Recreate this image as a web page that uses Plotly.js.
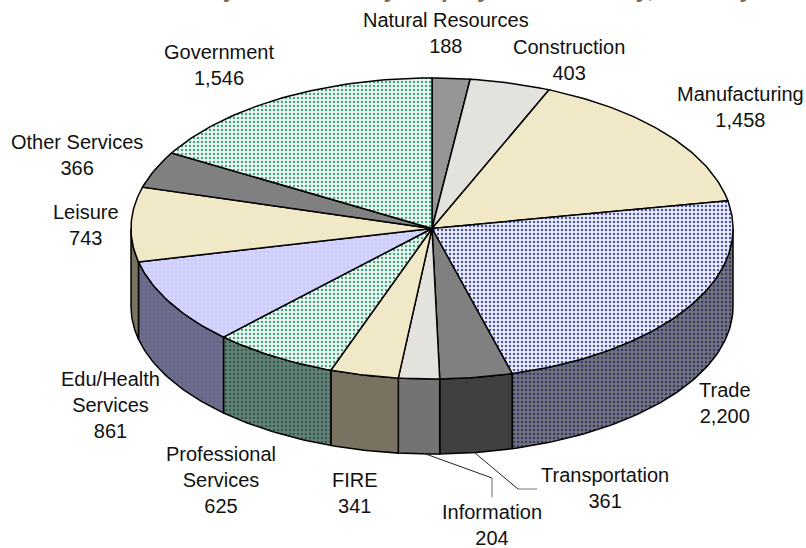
<!DOCTYPE html>
<html>
<head>
<meta charset="utf-8">
<script src="https://cdn.plot.ly/plotly-3.0.1.min.js"></script>
<style>html,body{margin:0;padding:0;background:#fff}#chart{width:806px;height:548px}</style>
</head>
<body>
<div id="chart"></div>
<script>
// Data (clockwise from 12 o'clock)
const categories = ["Natural Resources","Construction","Manufacturing","Trade","Transportation","Information","FIRE","Professional<br>Services","Edu/Health<br>Services","Leisure","Other Services","Government"];
const values = [188,403,1458,2200,361,204,341,625,861,743,366,1546];
const labelX = [446,569,740,725,605,491.5,355,221,110,86,77,219];
const labelY = [33,60,107,403,488,525,493,480,405,225,155,65];
const topColors = ["#969696","#e3e2dd","#f1e8c8","#eeeef8","#808080","#e3e2dd","#f1e8c8","#eef7f2","#ccccff","#f1e8c8","#808080","#eef7f2"];
const wallColors = ["#4b4b4b","#71716e","#7a7260","#72747f","#404040","#737373","#7a7260","#66807a","#6e6e8c","#7a7260","#404040","#66807a"];
const dotColors = [null,null,null,"#4a56a8",null,null,null,"#45a585","#dcdcff",null,null,"#45a585"];
const wallDotColors = [null,null,null,"#343a66",null,null,null,"#2f5f4c","#62628a",null,null,"#2f5f4c"];

// Pie geometry (px)
const CX = 432, CY = 228.5, RX = 301, RY = 150.5, BOTTOM_CY = 306.5, BOTTOM_RY = 147.5;
const total = values.reduce((a,b)=>a+b,0);
const pt = (deg, cy, ry) => [CX + RX*Math.sin(deg*Math.PI/180), cy - ry*Math.cos(deg*Math.PI/180)];
function arc(a0, a1, cy, ry){
  const n = Math.max(2, Math.ceil(Math.abs(a1-a0)));
  const o = [];
  for(let i=0;i<=n;i++) o.push(pt(a0+(a1-a0)*i/n, cy, ry));
  return o;
}
function pattern(dot, bg){
  return dot ? {shape:".", size:4, solidity:0.3, fgcolor:dot, bgcolor:bg, fillmode:"replace"} : undefined;
}
function poly(points, color, dot){
  const t = {
    type:"scatter", mode:"lines", x:points.map(p=>p[0]), y:points.map(p=>p[1]),
    fill:"toself", fillcolor:color, line:{color:"#000",width:1.5}, hoverinfo:"skip", showlegend:false
  };
  const p = pattern(dot,color);
  if(p) t.fillpattern = p;
  return t;
}
const walls = [], tops = [];
let acc = 0;
values.forEach((v,i)=>{
  const a0 = acc/total*360; acc += v; const a1 = acc/total*360;
  const w0 = Math.max(a0,90), w1 = Math.min(a1,270);
  if(w1 > w0){
    walls.push(poly(arc(w0,w1,CY,RY).concat(arc(w1,w0,BOTTOM_CY,BOTTOM_RY)).concat([pt(w0,CY,RY)]), wallColors[i], wallDotColors[i]));
  }
  tops.push(poly([[CX,CY]].concat(arc(a0,a1,CY,RY)).concat([[CX,CY]]), topColors[i], dotColors[i]));
});

const labels = categories.map((c,i)=>({
  x:labelX[i], y:labelY[i], xref:"x", yref:"y", text:c+"<br>"+values[i].toLocaleString("en-US"),
  showarrow:false, xanchor:"center", yanchor:"middle", align:"center",
  font:{family:"Liberation Sans, Arial, sans-serif", size:20, color:"#111"}
}));
labels.push({
  x:0.547, y:1, xref:"paper", yref:"paper", xanchor:"center", yanchor:"bottom", yshift:-4, showarrow:false,
  text:"<b>Kentucky Total Monthly Employment Industry, January</b>",
  font:{family:"Liberation Sans, Arial, sans-serif", size:24, color:"#7f6a55"}
});

const layout = {
  width:806, height:548, margin:{l:0,r:0,t:0,b:0}, paper_bgcolor:"#fff", plot_bgcolor:"#fff", showlegend:false,
  xaxis:{visible:false, range:[0,806], fixedrange:true},
  yaxis:{visible:false, range:[548,0], fixedrange:true},
  annotations:labels,
  shapes:[
    {type:"path", path:"M423,453 L492,478", line:{color:"#222",width:1}},
    {type:"path", path:"M492,478 L492,497", line:{color:"#666",width:1}},
    {type:"path", path:"M475,453 L518,489", line:{color:"#222",width:1}},
    {type:"path", path:"M518,489 L537,489", line:{color:"#777",width:1}}
  ]
};
Plotly.newPlot("chart", walls.concat(tops), layout, {displayModeBar:false, staticPlot:true});
</script>
</body>
</html>
